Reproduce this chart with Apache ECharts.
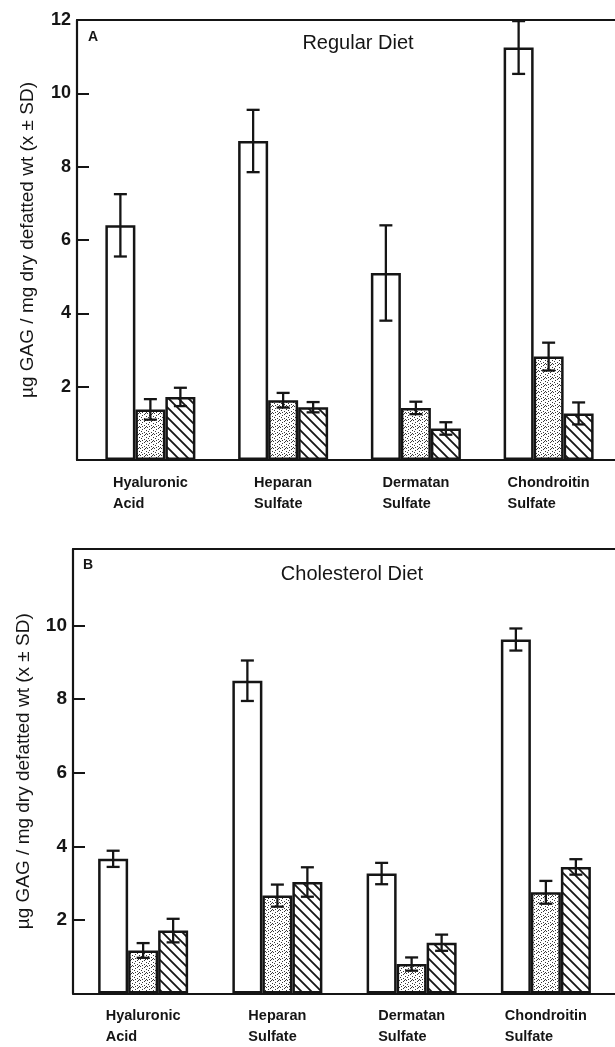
<!DOCTYPE html>
<html>
<head>
<meta charset="utf-8">
<script src="https://cdn.jsdelivr.net/npm/echarts@6/dist/echarts.min.js"></script>
<style>
  html, body { margin: 0; padding: 0; background: #fff; }
  #chart { width: 615px; height: 1047px; }
</style>
</head>
<body>
<div id="chart"></div>
<script>
// categories (x axis)
const categories = ['Hyaluronic|Acid', 'Heparan|Sulfate', 'Dermatan|Sulfate', 'Chondroitin|Sulfate'];
const yTicksA = [2, 4, 6, 8, 10, 12];
const yTicksB = [2, 4, 6, 8, 10];

// panel A - regular diet (mean, SD)
const regularOpen = [6.4, 8.7, 5.1, 11.25];
const regularOpenSD = [0.85, 0.85, 1.3, 0.72];
const regularDotted = [1.38, 1.63, 1.42, 2.82];
const regularDottedSD = [0.28, 0.2, 0.17, 0.38];
const regularHatched = [1.72, 1.44, 0.86, 1.27];
const regularHatchedSD = [0.25, 0.14, 0.17, 0.3];

// panel B - cholesterol diet (mean, SD)
const cholOpen = [3.66, 8.5, 3.26, 9.62];
const cholOpenSD = [0.22, 0.55, 0.29, 0.3];
const cholDotted = [1.17, 2.66, 0.8, 2.75];
const cholDottedSD = [0.2, 0.3, 0.18, 0.31];
const cholHatched = [1.71, 3.03, 1.38, 3.44];
const cholHatchedSD = [0.32, 0.4, 0.22, 0.21];

const INK = '#151515';
const BAR_W = 30;
const MAIN_FONT = '"Liberation Sans", Arial, sans-serif';

// fill patterns
function hatchCanvas() {
    const s = 10;
    const c = document.createElement('canvas');
    c.width = s; c.height = s;
    const ctx = c.getContext('2d');
    ctx.fillStyle = '#fff';
    ctx.fillRect(0, 0, s, s);
    ctx.strokeStyle = INK;
    ctx.lineWidth = 1.8;
    ctx.beginPath();
    ctx.moveTo(-1, -1); ctx.lineTo(s + 1, s + 1);
    ctx.moveTo(-2, s - 2); ctx.lineTo(2, s + 2);
    ctx.moveTo(s - 2, -2); ctx.lineTo(s + 2, 2);
    ctx.stroke();
    return c;
}
function dotCanvas() {
    const s = 7;
    const c = document.createElement('canvas');
    c.width = s; c.height = s;
    const ctx = c.getContext('2d');
    ctx.fillStyle = '#fff';
    ctx.fillRect(0, 0, s, s);
    ctx.fillStyle = '#3a3a3a';
    [[0, 0], [4, 1], [2, 2], [6, 3], [1, 4], [4, 5], [2, 6], [6, 6], [5, 0]]
        .forEach(p => ctx.fillRect(p[0], p[1], 1, 1));
    return c;
}
const hatchFill = { image: hatchCanvas(), repeat: 'repeat' };
const dotFill = { image: dotCanvas(), repeat: 'repeat' };

const fills = ['#fff', dotFill, hatchFill];

function errRows(groups) {
    const rows = [];
    groups.forEach((g, k) => {
        g[0].forEach((m, i) => rows.push([i, k, m - g[1][i], m + g[1][i]]));
    });
    return rows;
}

function renderErr(params, api) {
    const cat = api.value(0), k = api.value(1);
    const x = api.coord([cat, 0])[0] + (k - 1) * BAR_W;
    const y1 = api.coord([cat, api.value(2)])[1];
    const y2 = api.coord([cat, api.value(3)])[1];
    const st = { stroke: INK, lineWidth: 2.3 };
    return {
        type: 'group',
        children: [
            { type: 'line', shape: { x1: x, y1: y1, x2: x, y2: y2 }, style: st },
            { type: 'line', shape: { x1: x - 6.5, y1: y1, x2: x + 6.5, y2: y1 }, style: st },
            { type: 'line', shape: { x1: x - 6.5, y1: y2, x2: x + 6.5, y2: y2 }, style: st }
        ]
    };
}

function catLabel(v) {
    const p = v.split('|');
    return '{a|' + p[0] + '}\n{a|' + p[1] + '}';
}

const chart = echarts.init(document.getElementById('chart'), null, { renderer: 'canvas' });

function frameAxes(gridIndex) {
    return [
        { type: 'value', gridIndex: gridIndex, position: 'bottom', min: 0, max: 1,
          axisLine: { show: true, onZero: false, lineStyle: { color: INK, width: 2.2 } },
          axisTick: { show: false }, axisLabel: { show: false }, splitLine: { show: false } },
        { type: 'value', gridIndex: gridIndex, position: 'top', min: 0, max: 1,
          axisLine: { show: true, onZero: false, lineStyle: { color: INK, width: 1.8 } },
          axisTick: { show: false }, axisLabel: { show: false }, splitLine: { show: false } }
    ];
}

function barsXAxis(gridIndex) {
    return {
        type: 'category', gridIndex: gridIndex, data: categories,
        axisLine: { show: false }, axisTick: { show: false }, splitLine: { show: false },
        axisLabel: {
            margin: 12, formatter: catLabel, align: 'center',
            rich: { a: { fontFamily: MAIN_FONT, fontWeight: 'bold', fontSize: 14.5, color: INK, lineHeight: 21, align: 'left' } }
        }
    };
}

function frameYAxis(gridIndex, max, ticks, fontSize) {
    return {
        type: 'value', gridIndex: gridIndex, min: 0, max: max,
        name: 'µg GAG / mg dry defatted wt (x ± SD)',
        nameLocation: 'middle', nameGap: 40,
        nameTextStyle: { fontFamily: MAIN_FONT, fontSize: 19, color: INK },
        axisLine: { show: true, onZero: false, lineStyle: { color: INK, width: 2.2 } },
        axisTick: { show: true, inside: true, length: 12, customValues: ticks, lineStyle: { color: INK, width: 2 } },
        axisLabel: { customValues: ticks, margin: 6, fontFamily: MAIN_FONT, fontWeight: 'bold', fontSize: fontSize, color: INK },
        splitLine: { show: false }
    };
}

function hiddenY(gridIndex, max) {
    return { type: 'value', gridIndex: gridIndex, min: 0, max: max, show: false, splitLine: { show: false } };
}

function barSeries(xIdx, yIdx, values) {
    return values.map((v, k) => ({
        type: 'bar', xAxisIndex: xIdx, yAxisIndex: yIdx, data: v,
        barWidth: BAR_W, barGap: '0%',
        itemStyle: { color: fills[k], borderColor: INK, borderWidth: 2.5 },
        emphasis: { disabled: true }, silent: true
    }));
}

const maxA = 12, maxB = 12.08;

const option = {
    animation: false,
    backgroundColor: '#fff',
    title: [
        { text: 'A', left: 88, top: 30, padding: 0, textStyle: { fontFamily: MAIN_FONT, fontWeight: 900, fontSize: 14, color: INK } },
        { text: 'Regular Diet', left: 358, top: 33, padding: 0, textAlign: 'center', textStyle: { fontFamily: MAIN_FONT, fontWeight: 'normal', fontSize: 20, color: INK } },
        { text: 'B', left: 83, top: 558, padding: 0, textStyle: { fontFamily: MAIN_FONT, fontWeight: 900, fontSize: 14, color: INK } },
        { text: 'Cholesterol Diet', left: 352, top: 564, padding: 0, textAlign: 'center', textStyle: { fontFamily: MAIN_FONT, fontWeight: 'normal', fontSize: 20, color: INK } }
    ],
    grid: [
        { left: 77, right: 0, top: 20, height: 440 },
        { left: 84, width: 533, top: 20, height: 440 },
        { left: 73, right: 0, top: 549, height: 444.5 },
        { left: 76, width: 537, top: 549, height: 444.5 }
    ],
    xAxis: [
        ...frameAxes(0),
        barsXAxis(1),
        ...frameAxes(2),
        barsXAxis(3)
    ],
    yAxis: [
        frameYAxis(0, maxA, yTicksA, 18),
        hiddenY(1, maxA),
        frameYAxis(2, maxB, yTicksB, 19),
        hiddenY(3, maxB)
    ],
    series: [
        ...barSeries(2, 1, [regularOpen, regularDotted, regularHatched]),
        { type: 'custom', xAxisIndex: 2, yAxisIndex: 1, z: 5, silent: true, renderItem: renderErr,
          data: errRows([[regularOpen, regularOpenSD], [regularDotted, regularDottedSD], [regularHatched, regularHatchedSD]]) },
        ...barSeries(5, 3, [cholOpen, cholDotted, cholHatched]),
        { type: 'custom', xAxisIndex: 5, yAxisIndex: 3, z: 5, silent: true, renderItem: renderErr,
          data: errRows([[cholOpen, cholOpenSD], [cholDotted, cholDottedSD], [cholHatched, cholHatchedSD]]) }
    ]
};

chart.setOption(option);
</script>
</body>
</html>
